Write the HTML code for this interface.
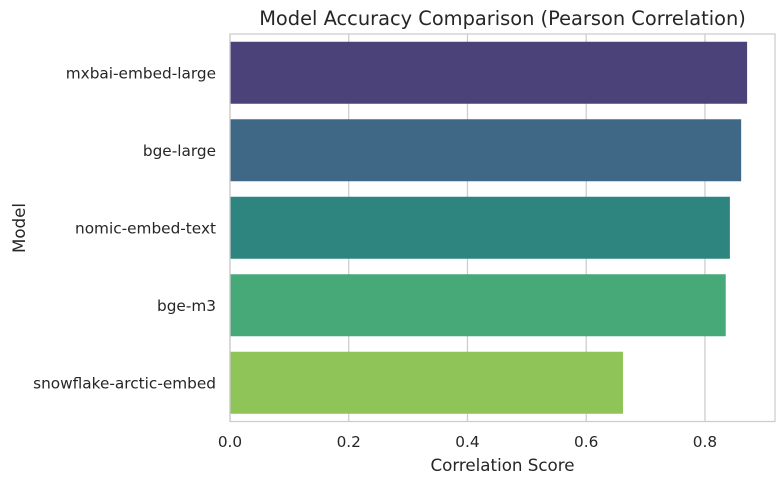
<!DOCTYPE html>
<html><head><meta charset="utf-8"><style>
body{margin:0;background:#fff;}
svg{display:block;font-family:"DejaVu Sans","Liberation Sans",sans-serif;}
</style></head><body>
<svg id="chart" width="784" height="484">
<rect width="784" height="484" fill="#fff"/>
<text x="502.5" y="25" text-anchor="middle" font-size="19.4" fill="#262626">Model Accuracy Comparison (Pearson Correlation)</text>
<g id="grid"></g>
<g id="bars"></g>
<rect x="230" y="34" width="545" height="387.5" fill="none" stroke="#cccccc" stroke-width="1.25"/>
<g id="labels"></g>
<text x="502.5" y="471" text-anchor="middle" font-size="16.7" fill="#262626">Correlation Score</text>
<text transform="translate(25,228) rotate(-90)" text-anchor="middle" font-size="16.7" fill="#262626">Model</text>
</svg>
<script>
const categories=["mxbai-embed-large","bge-large","nomic-embed-text","bge-m3","snowflake-arctic-embed"];
const values=[0.871,0.861,0.842,0.835,0.662];
const colors=["#4c427a","#3e6886","#2e847f","#47a878","#8fc558"];
const xTicks=[0,0.2,0.4,0.6,0.8];
const xTickLabels=["0.0","0.2","0.4","0.6","0.8"];
const L=230,R=775,T=34,B=421.5;
const xMax=0.918;
const x=v=>L+(v/xMax)*(R-L);
const band=(B-T)/categories.length;
const y=i=>T+i*band;
const NS="http://www.w3.org/2000/svg";
const grid=document.getElementById('grid'),bars=document.getElementById('bars'),labels=document.getElementById('labels');
xTicks.forEach((t,i)=>{
  const l=document.createElementNS(NS,'line');
  l.setAttribute('x1',x(t));l.setAttribute('x2',x(t));l.setAttribute('y1',T);l.setAttribute('y2',B);
  l.setAttribute('stroke','#cccccc');l.setAttribute('stroke-width','1.25');
  
  
  grid.appendChild(l);
  const tx=document.createElementNS(NS,'text');
  tx.setAttribute('x',x(t));tx.setAttribute('y',B+25.5);tx.setAttribute('text-anchor','middle');
  tx.setAttribute('font-size','15.3');tx.setAttribute('fill','#262626');tx.textContent=xTickLabels[i];
  
  
  labels.appendChild(tx);
});
categories.forEach((c,i)=>{
  const r=document.createElementNS(NS,'rect');
  const h=band*0.8;
  r.setAttribute('x',L);r.setAttribute('y',y(i)+band*0.1);r.setAttribute('width',x(values[i])-L);r.setAttribute('height',h);
  r.setAttribute('fill',colors[i]);
  
  
  bars.appendChild(r);
  const tx=document.createElementNS(NS,'text');
  tx.setAttribute('x',L-14);tx.setAttribute('y',y(i)+band/2+5.5);tx.setAttribute('text-anchor','end');
  tx.setAttribute('font-size','15.3');tx.setAttribute('fill','#262626');tx.textContent=c;
  
  
  labels.appendChild(tx);
});
</script>
</body></html>
